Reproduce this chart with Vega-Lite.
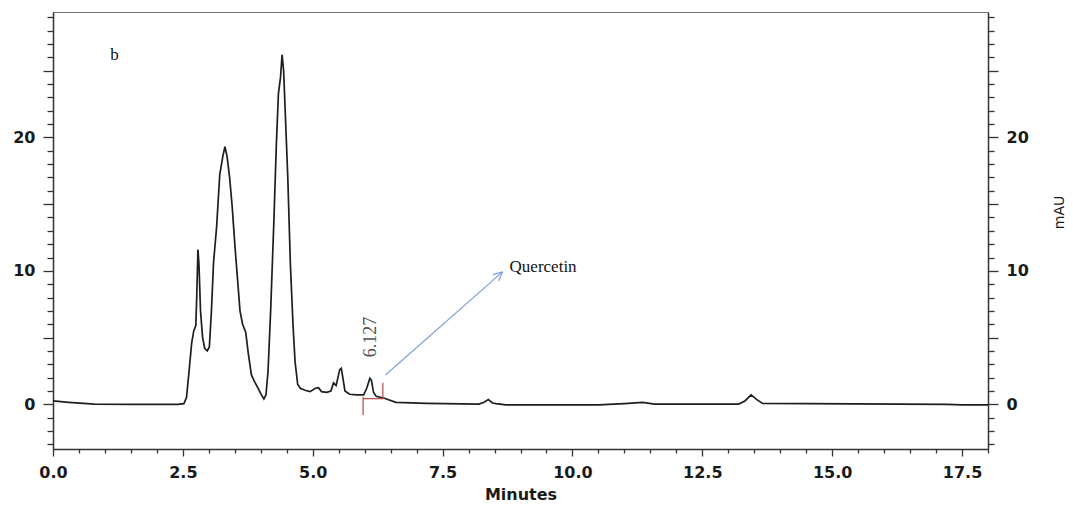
{
  "$schema": "https://vega.github.io/schema/vega-lite/v6.json",
  "width": 935,
  "height": 437,
  "autosize": {"type": "none"},
  "padding": {"left": 53, "top": 12, "right": 85, "bottom": 57},
  "background": "white",
  "config": {
    "view": {"stroke": "#777", "strokeWidth": 1},
    "axis": {
      "labelFont": "DejaVu Sans",
      "labelFontWeight": "bold",
      "labelFontSize": 16,
      "labelColor": "#1a1a1a",
      "titleFont": "DejaVu Sans",
      "titleColor": "#1a1a1a",
      "domainColor": "#333",
      "domainWidth": 1.5,
      "tickColor": "#333",
      "tickWidth": 1.3,
      "grid": false,
      "labelOverlap": false,
      "labelFlush": false,
      "labelBound": false
    }
  },
  "datasets": {
    "trace": [
      {"t": 0.00, "v": 0.25}, {"t": 0.30, "v": 0.15}, {"t": 0.80, "v": 0.02}, {"t": 1.50, "v": 0.0},
      {"t": 2.40, "v": 0.0}, {"t": 2.52, "v": 0.05}, {"t": 2.57, "v": 0.5}, {"t": 2.62, "v": 2.5},
      {"t": 2.67, "v": 4.6}, {"t": 2.71, "v": 5.5}, {"t": 2.75, "v": 5.9}, {"t": 2.77, "v": 8.5},
      {"t": 2.79, "v": 11.6}, {"t": 2.81, "v": 10.5}, {"t": 2.84, "v": 7.0}, {"t": 2.88, "v": 5.0},
      {"t": 2.92, "v": 4.2}, {"t": 2.97, "v": 4.0}, {"t": 3.01, "v": 4.3}, {"t": 3.05, "v": 7.0},
      {"t": 3.09, "v": 10.6}, {"t": 3.15, "v": 13.3}, {"t": 3.21, "v": 17.2}, {"t": 3.27, "v": 18.6},
      {"t": 3.31, "v": 19.3}, {"t": 3.35, "v": 18.6}, {"t": 3.40, "v": 17.0}, {"t": 3.45, "v": 14.8},
      {"t": 3.50, "v": 12.0}, {"t": 3.55, "v": 9.5}, {"t": 3.60, "v": 7.0}, {"t": 3.65, "v": 6.0},
      {"t": 3.71, "v": 5.4}, {"t": 3.76, "v": 3.8}, {"t": 3.82, "v": 2.2}, {"t": 3.88, "v": 1.7},
      {"t": 3.95, "v": 1.2}, {"t": 4.00, "v": 0.8}, {"t": 4.06, "v": 0.4}, {"t": 4.10, "v": 0.7},
      {"t": 4.14, "v": 2.5}, {"t": 4.19, "v": 7.0}, {"t": 4.25, "v": 13.5}, {"t": 4.30, "v": 19.5},
      {"t": 4.34, "v": 23.3}, {"t": 4.38, "v": 24.5}, {"t": 4.41, "v": 26.2}, {"t": 4.44, "v": 25.0},
      {"t": 4.47, "v": 22.0}, {"t": 4.52, "v": 17.0}, {"t": 4.57, "v": 10.5}, {"t": 4.62, "v": 6.0},
      {"t": 4.66, "v": 3.2}, {"t": 4.71, "v": 1.5}, {"t": 4.76, "v": 1.2}, {"t": 4.85, "v": 1.05},
      {"t": 4.95, "v": 0.95}, {"t": 5.05, "v": 1.2}, {"t": 5.11, "v": 1.25}, {"t": 5.17, "v": 0.95},
      {"t": 5.27, "v": 0.9}, {"t": 5.35, "v": 1.0}, {"t": 5.40, "v": 1.6}, {"t": 5.45, "v": 1.4},
      {"t": 5.52, "v": 2.6}, {"t": 5.55, "v": 2.7}, {"t": 5.58, "v": 2.0}, {"t": 5.62, "v": 1.0},
      {"t": 5.71, "v": 0.75}, {"t": 5.85, "v": 0.7}, {"t": 5.98, "v": 0.7}, {"t": 6.04, "v": 1.2},
      {"t": 6.10, "v": 1.95}, {"t": 6.13, "v": 1.8}, {"t": 6.17, "v": 0.9}, {"t": 6.22, "v": 0.6},
      {"t": 6.38, "v": 0.45}, {"t": 6.60, "v": 0.15}, {"t": 7.20, "v": 0.07}, {"t": 8.20, "v": 0.02},
      {"t": 8.30, "v": 0.15}, {"t": 8.38, "v": 0.35}, {"t": 8.46, "v": 0.1}, {"t": 8.53, "v": 0.05},
      {"t": 8.72, "v": -0.05}, {"t": 9.50, "v": -0.05}, {"t": 10.50, "v": -0.05}, {"t": 11.00, "v": 0.05},
      {"t": 11.35, "v": 0.15}, {"t": 11.58, "v": 0.02}, {"t": 13.20, "v": 0.02}, {"t": 13.32, "v": 0.25},
      {"t": 13.44, "v": 0.7}, {"t": 13.55, "v": 0.35}, {"t": 13.66, "v": 0.07}, {"t": 14.50, "v": 0.05},
      {"t": 16.30, "v": 0.02}, {"t": 17.20, "v": 0.0}, {"t": 17.50, "v": -0.05}, {"t": 18.00, "v": -0.05}
    ],
    "segs": [
      {"t": 5.97, "v": 0.57, "t2": 5.97, "v2": -0.8, "kind": "integration"},
      {"t": 6.35, "v": 1.62, "t2": 6.35, "v2": 0.37, "kind": "integration"},
      {"t": 5.97, "v": 0.42, "t2": 6.35, "v2": 0.42, "kind": "integration"},
      {"t": 6.40, "v": 2.2, "t2": 8.654, "v2": 9.925, "kind": "arrow"},
      {"t": 8.654, "v": 9.925, "t2": 8.577, "v2": 9.235, "kind": "arrow"},
      {"t": 8.654, "v": 9.925, "t2": 8.469, "v2": 9.715, "kind": "arrow"}
    ],
    "notes": [
      {"t": 1.1, "v": 26.2, "label": "b", "kind": "plain"},
      {"t": 8.79, "v": 10.3, "label": "Quercetin", "kind": "plain"},
      {"t": 6.13, "v": 5.05, "label": "6.127", "kind": "rt"}
    ]
  },
  "resolve": {"axis": {"x": "independent", "y": "independent"}},
  "layer": [
    {
      "data": {"name": "trace"},
      "mark": {"type": "line", "color": "#1e1e1e", "strokeWidth": 1.7},
      "encoding": {
        "x": {
          "field": "t", "type": "quantitative",
          "scale": {"domain": [0, 18], "nice": false, "zero": false},
          "axis": {
            "orient": "bottom",
            "title": "Minutes",
            "titleFontSize": 16,
            "titleFontWeight": "bold",
            "titlePadding": 6,
            "values": [0,0.5,1,1.5,2,2.5,3,3.5,4,4.5,5,5.5,6,6.5,7,7.5,8,8.5,9,9.5,10,10.5,11,11.5,12,12.5,13,13.5,14,14.5,15,15.5,16,16.5,17,17.5,18],
            "labelExpr": "datum.value % 2.5 === 0 ? format(datum.value, '.1f') : ''",
            "tickSize": {"condition": {"test": "datum.value % 2.5 === 0", "value": 7}, "value": 4},
            "labelPadding": 8
          }
        },
        "y": {
          "field": "v", "type": "quantitative",
          "scale": {"domain": [-3.35, 29.4], "nice": false, "zero": false},
          "axis": {
            "orient": "left",
            "title": null,
            "values": [-3,-2,-1,0,1,2,3,4,5,6,7,8,9,10,11,12,13,14,15,16,17,18,19,20,21,22,23,24,25,26,27,28,29],
            "labelExpr": "datum.value % 10 === 0 ? datum.label : ''",
            "tickSize": {"condition": {"test": "datum.value % 5 === 0", "value": 10}, "value": 6},
            "labelPadding": 8
          }
        }
      }
    },
    {
      "data": {"name": "segs"},
      "mark": {"type": "rule", "strokeWidth": 1.2},
      "encoding": {
        "x": {"field": "t", "type": "quantitative", "scale": {"domain": [0, 18], "nice": false, "zero": false}, "axis": null},
        "x2": {"field": "t2"},
        "y": {
          "field": "v", "type": "quantitative",
          "scale": {"domain": [-3.35, 29.4], "nice": false, "zero": false},
          "axis": {
            "orient": "right",
            "title": "mAU",
            "titleFontSize": 14,
            "titleFontWeight": "normal",
            "titleAngle": 270,
            "titleY": 200,
            "titlePadding": 38,
            "values": [-3,-2,-1,0,1,2,3,4,5,6,7,8,9,10,11,12,13,14,15,16,17,18,19,20,21,22,23,24,25,26,27,28,29],
            "labelExpr": "datum.value % 10 === 0 ? datum.label : ''",
            "tickSize": {"condition": {"test": "datum.value % 5 === 0", "value": 10}, "value": 6},
            "labelPadding": 8
          }
        },
        "y2": {"field": "v2"},
        "color": {
          "field": "kind", "type": "nominal",
          "scale": {"domain": ["integration", "arrow"], "range": ["#b5474a", "#7f9fd8"]},
          "legend": null
        }
      }
    },
    {
      "data": {"name": "notes"},
      "transform": [{"filter": "datum.kind === 'plain'"}],
      "mark": {"type": "text", "font": "Liberation Serif", "fontSize": 17, "align": "left", "baseline": "middle", "color": "#111"},
      "encoding": {
        "x": {"field": "t", "type": "quantitative", "scale": {"domain": [0, 18], "nice": false, "zero": false}, "axis": null},
        "y": {"field": "v", "type": "quantitative", "scale": {"domain": [-3.35, 29.4], "nice": false, "zero": false}, "axis": null},
        "text": {"field": "label"}
      }
    },
    {
      "data": {"name": "notes"},
      "transform": [{"filter": "datum.kind === 'rt'"}],
      "mark": {"type": "text", "font": "Liberation Serif", "fontSize": 18, "align": "center", "baseline": "middle", "angle": 270, "color": "#555"},
      "encoding": {
        "x": {"field": "t", "type": "quantitative", "scale": {"domain": [0, 18], "nice": false, "zero": false}, "axis": null},
        "y": {"field": "v", "type": "quantitative", "scale": {"domain": [-3.35, 29.4], "nice": false, "zero": false}, "axis": null},
        "text": {"field": "label"}
      }
    }
  ]
}
